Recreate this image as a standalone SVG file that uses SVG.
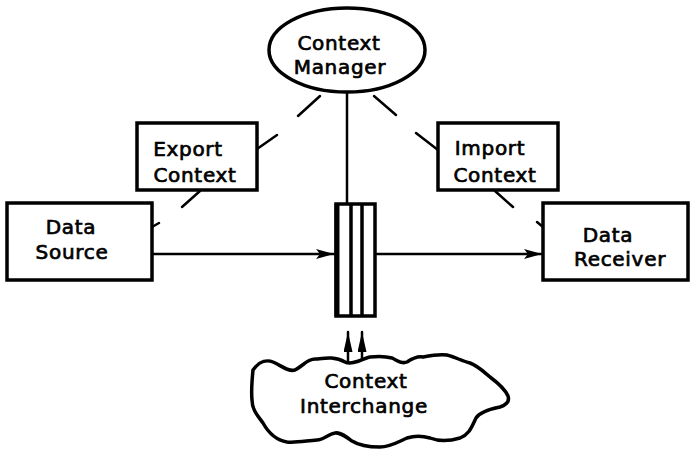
<svg xmlns="http://www.w3.org/2000/svg" width="695" height="453" viewBox="0 0 695 453">
<defs>
<style>
.box{fill:#fff;stroke:#000;stroke-width:3.5}
.ln{fill:none;stroke:#000;stroke-width:2.5;stroke-linecap:round}
.t{font-family:"DejaVu Sans",sans-serif;font-size:20px;letter-spacing:0.7px;fill:#000;stroke:#000;stroke-width:0.7;text-anchor:middle}
</style>
<marker id="ah" viewBox="0 0 18 12" refX="18" refY="6" markerWidth="18" markerHeight="12" markerUnits="userSpaceOnUse" orient="auto">
<path d="M0,1 L18,6 L0,11 L4,6 Z" fill="#000"/>
</marker>
<marker id="up" viewBox="0 0 20 9" refX="20" refY="4.5" markerWidth="20" markerHeight="9" markerUnits="userSpaceOnUse" orient="auto">
<path d="M0,0 L20,4.5 L0,9 Z" fill="#000"/>
</marker>
</defs>
<rect width="695" height="453" fill="#fff"/>
<g id="connectors">
<line class="ln" x1="347" y1="92" x2="347" y2="203"/>
<line class="ln" x1="320" y1="96" x2="298" y2="116"/>
<line class="ln" x1="374" y1="96" x2="396" y2="115"/>
<line class="ln" x1="257" y1="149" x2="277" y2="135"/>
<line class="ln" x1="200" y1="191" x2="182" y2="207"/>
<line class="ln" x1="152" y1="227" x2="159" y2="223"/>
<line class="ln" x1="438" y1="150" x2="416" y2="133"/>
<line class="ln" x1="495" y1="191" x2="513" y2="207"/>
<line class="ln" x1="543" y1="227" x2="537" y2="222"/>
<line class="ln" x1="152" y1="254" x2="334" y2="254" marker-end="url(#ah)"/>
<line class="ln" x1="377" y1="254" x2="542" y2="254" marker-end="url(#ah)"/>
<line class="ln" x1="348" y1="362" x2="348" y2="332" marker-end="url(#up)"/>
<line class="ln" x1="362" y1="362" x2="362" y2="332" marker-end="url(#up)"/>
</g>
<g id="context-manager">
<ellipse cx="347" cy="50" rx="78" ry="42" fill="#fff" stroke="#000" stroke-width="3.5"/>
<text class="t" x="339" y="50">Context</text>
<text class="t" x="340" y="74">Manager</text>
</g>
<g id="export-context">
<rect class="box" x="137" y="123" width="120" height="67"/>
<text class="t" x="188" y="156">Export</text>
<text class="t" x="195" y="182">Context</text>
</g>
<g id="import-context">
<rect class="box" x="438" y="123" width="120" height="67"/>
<text class="t" x="490" y="155">Import</text>
<text class="t" x="495" y="182">Context</text>
</g>
<g id="data-source">
<rect class="box" x="7" y="203" width="145" height="77"/>
<text class="t" x="71" y="234">Data</text>
<text class="t" x="72" y="259">Source</text>
</g>
<g id="data-receiver">
<rect class="box" x="543" y="203" width="145" height="77"/>
<text class="t" x="608" y="242">Data</text>
<text class="t" x="620" y="266">Receiver</text>
</g>
<g id="buffer">
<rect x="336" y="204" width="39" height="112" fill="#fff" stroke="#000" stroke-width="3.5"/>
<line x1="337" y1="204" x2="337" y2="316" stroke="#000" stroke-width="5"/>
<line x1="351" y1="204" x2="351" y2="316" stroke="#000" stroke-width="3.5"/>
<line x1="362" y1="204" x2="362" y2="316" stroke="#000" stroke-width="3.5"/>
</g>
<g id="context-interchange">
<path d="M253,370 C260,360 268,360 273,362 C282,366 288,372 295,370 C303,366 308,358 317,359 C325,358 335,356 345,362 C352,366 364,358 370,357 C378,356 385,356 392,358 C398,361 402,364 407,362 C413,358 418,356 423,357 C433,355 440,354 447,355 C455,357 462,361 470,363 C478,366 484,372 490,377 C498,383 505,389 508,396 C510,402 506,405 500,407 C490,409 480,412 476,418 C472,426 470,434 460,438 C450,441 440,442 430,438 C420,435 413,436 407,438 C398,442 390,447 380,447 C368,447 360,446 352,441 C345,436 340,432 335,433 C328,434 324,440 317,440 C305,441 295,443 287,442 C275,440 268,432 263,423 C258,416 252,410 252,400 C251,390 252,380 253,370 Z" fill="#fff" stroke="#000" stroke-width="3.5"/>
<text class="t" x="366" y="388">Context</text>
<text class="t" x="364" y="413">Interchange</text>
</g>
</svg>
